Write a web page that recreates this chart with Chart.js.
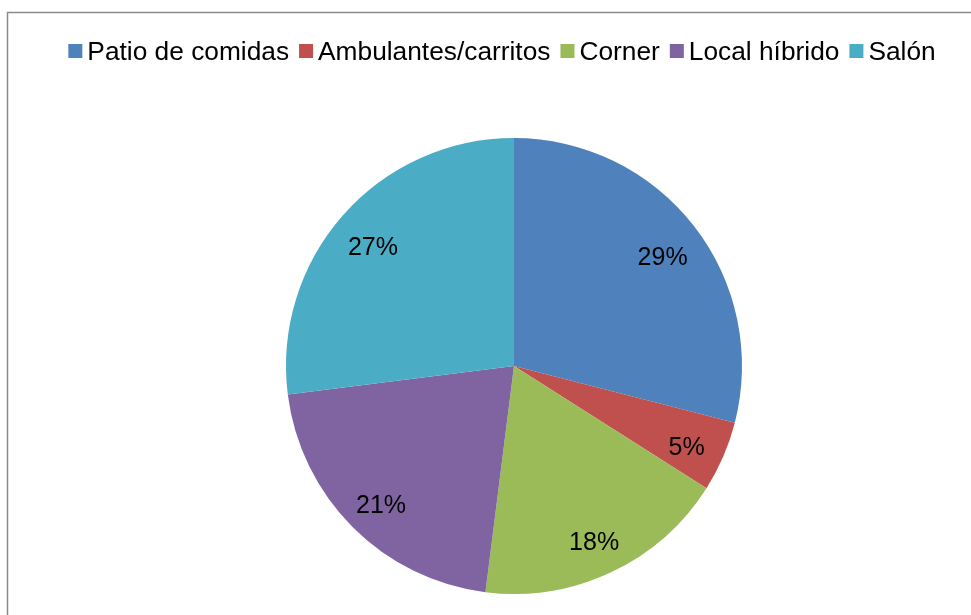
<!DOCTYPE html>
<html>
<head>
<meta charset="utf-8">
<title>Tipo de local</title>
<script src="https://cdn.jsdelivr.net/npm/chart.js@4"></script>
<style>
  html, body { margin: 0; padding: 0; background: #fff; overflow: hidden; }
  canvas { display: block; }
</style>
</head>
<body>
<canvas id="pieChart" width="971" height="615"></canvas>
<script>
const categories = ['Patio de comidas', 'Ambulantes/carritos', 'Corner', 'Local híbrido', 'Salón'];
const shares = [29, 5, 18, 21, 27];
const sliceColors = ['#4F81BD', '#C0504D', '#9BBB59', '#8064A2', '#4BACC6'];

const FONT = '"Liberation Sans", Arial, sans-serif';

// frame line along the top and left edge
const framePlugin = {
    id: 'frame',
    beforeDraw(chart) {
        const ctx = chart.ctx;
        ctx.save();
        ctx.fillStyle = '#ffffff';
        ctx.fillRect(0, 0, chart.width, chart.height);
        ctx.strokeStyle = '#8a8a8a';
        ctx.lineWidth = 1.5;
        ctx.strokeRect(7.5, 12.5, 1200, 1200);
        ctx.restore();
    }
};

// compact legend: small square, short gap, label
const legendPlugin = {
    id: 'compactLegend',
    afterDraw(chart) {
        const ctx = chart.ctx;
        const labels = chart.data.labels;
        const colors = chart.data.datasets[0].backgroundColor;
        const box = 15, gap = 4, spacing = 10;
        ctx.save();
        ctx.font = '26.3px ' + FONT;
        const widths = labels.map(l => box + gap + ctx.measureText(l).width);
        const total = widths.reduce((a, b) => a + b, 0) + spacing * (labels.length - 1);
        let x = 502 - total / 2;
        labels.forEach((label, i) => {
            ctx.fillStyle = colors[i];
            ctx.fillRect(x, 44, box - 1, box - 1);
            ctx.fillStyle = '#000';
            ctx.textBaseline = 'alphabetic';
            ctx.fillText(label, x + box + gap, 60);
            x += widths[i] + spacing;
        });
        ctx.restore();
    }
};

// percentage labels inside each slice
const pctPlugin = {
    id: 'pctLabels',
    afterDatasetsDraw(chart) {
        const ctx = chart.ctx;
        const meta = chart.getDatasetMeta(0);
        const data = chart.data.datasets[0].data;
        const total = data.reduce((a, b) => a + b, 0);
        ctx.save();
        ctx.font = '25px ' + FONT;
        ctx.fillStyle = '#000';
        ctx.textAlign = 'center';
        ctx.textBaseline = 'middle';
        meta.data.forEach((arc, i) => {
            const p = arc.getProps(['x', 'y', 'startAngle', 'endAngle', 'outerRadius'], true);
            const mid = (p.startAngle + p.endAngle) / 2;
            const r = p.outerRadius * 0.825;
            const txt = Math.round(data[i] / total * 100) + '%';
            ctx.fillText(txt, p.x + Math.cos(mid) * r, p.y + Math.sin(mid) * r + 7);
        });
        ctx.restore();
    }
};

const ctx = document.getElementById('pieChart').getContext('2d');
new Chart(ctx, {
    type: 'pie',
    data: {
        labels: categories,
        datasets: [{
            data: shares,
            backgroundColor: sliceColors,
            borderWidth: 0
        }]
    },
    options: {
        responsive: false,
        animation: false,
        layout: {
            padding: { top: 138, bottom: 21, left: 286, right: 229 }
        },
        plugins: {
            legend: { display: false },
            tooltip: { enabled: false }
        }
    },
    plugins: [framePlugin, legendPlugin, pctPlugin]
});
</script>
</body>
</html>
